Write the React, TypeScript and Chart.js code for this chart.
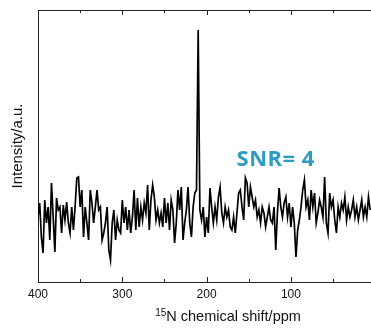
import React, { useEffect, useRef } from "react";
import { Chart, registerables } from "chart.js";

Chart.register(...registerables);

// Spectrum sampling grid (ppm) and intensities (a.u.)
const ppmStart = 400;
const ppmStep = 2;
const intensity = [
  65, 79, 45, 29, 82, 59, 75, 42, 99, 65, 30, 84, 72, 75, 49, 77, 62, 80, 59, 49,
  75, 52, 75, 104, 105, 75, 92, 45, 75, 59, 42, 92, 79, 59, 75, 92, 72, 75, 42, 49,
  59, 75, 32, 22, 59, 72, 42, 62, 52,
  49, 82, 59, 75, 52, 72, 49, 65, 92, 52, 84, 55, 75, 62, 79, 69, 97, 52, 82, 97,
  85, 62, 72, 59, 69, 55, 84, 59, 79, 52, 82, 72, 39, 59, 92, 72, 95, 42, 59, 72,
  95, 59, 45, 75, 89, 92,
  252,
  72, 62, 75, 45, 65, 49, 94, 75, 59, 75, 62, 85, 95, 69, 59, 75, 65, 72, 55, 52,
  65, 49, 69, 89, 92, 75, 62, 104, 99, 75, 95, 85, 75, 82, 65, 72, 59, 75, 69, 55,
  65, 75, 62, 59, 75, 32, 69, 94, 75, 65,
  79, 85, 65, 79, 55, 75, 59, 25, 52, 62, 75, 92, 102, 75, 82, 62, 92, 75, 89, 59,
  69, 82, 75, 65, 105, 59, 49, 89, 75, 82, 62, 49, 75, 65, 79, 72, 85, 62, 75, 65,
  72, 82, 65, 75, 62, 72, 82, 65, 75, 65, 85, 72,
];

const xMajorTicks = [400, 300, 200, 100];
const xMinorTicks = [350, 250, 150, 50];
const xRange = [400, 5];
const yRange = [0, 272];
const annotationText = "SNR= 4";
const annotationPos = { x: 118, y: 122 };
const yTitle = "Intensity/a.u.";
const xTitleSup = "15";
const xTitleMain = "N chemical shift/ppm";

const AXIS_COLOR = "#222";

export default function App() {
  const canvasRef = useRef<HTMLCanvasElement | null>(null);

  useEffect(() => {
    document.body.style.margin = "0";
    const canvas = canvasRef.current;
    if (!canvas) return;

    const points = intensity.map((v, i) => ({ x: ppmStart - ppmStep * i, y: v }));

    const decorPlugin = {
      id: "decor",
      afterDraw(chart: any) {
        const ctx = chart.ctx;
        const xs = chart.scales.x;
        const ys = chart.scales.y;
        const area = chart.chartArea;
        ctx.save();
        // top frame line
        ctx.strokeStyle = AXIS_COLOR;
        ctx.lineWidth = 1;
        ctx.beginPath();
        ctx.moveTo(area.left, area.top + 0.5);
        ctx.lineTo(area.right, area.top + 0.5);
        ctx.stroke();
        // inward ticks top and bottom
        const drawTick = (v: number, len: number) => {
          const px = Math.round(xs.getPixelForValue(v)) + 0.5;
          ctx.beginPath();
          ctx.moveTo(px, area.bottom);
          ctx.lineTo(px, area.bottom - len);
          ctx.moveTo(px, area.top);
          ctx.lineTo(px, area.top + len);
          ctx.stroke();
        };
        xMajorTicks.forEach((v) => drawTick(v, 5));
        xMinorTicks.forEach((v) => drawTick(v, 3));
        // annotation
        ctx.fillStyle = "#2E9BC0";
        ctx.font = "bold 22px 'Open Sans'";
        (ctx as any).letterSpacing = "0.5px";
        ctx.textAlign = "center";
        ctx.textBaseline = "middle";
        ctx.fillText(annotationText, xs.getPixelForValue(annotationPos.x), ys.getPixelForValue(annotationPos.y));
        (ctx as any).letterSpacing = "0px";
        // x title with superscript
        ctx.fillStyle = "#111";
        ctx.textAlign = "left";
        ctx.textBaseline = "alphabetic";
        const mainFont = "14.5px 'Liberation Sans'";
        const supFont = "10px 'Liberation Sans'";
        ctx.font = supFont;
        const wSup = ctx.measureText(xTitleSup).width;
        ctx.font = mainFont;
        const wMain = ctx.measureText(xTitleMain).width;
        const cx = 228;
        const startX = cx - (wSup + wMain) / 2;
        const baseY = 321;
        ctx.font = supFont;
        ctx.fillText(xTitleSup, startX, baseY - 5);
        ctx.font = mainFont;
        ctx.fillText(xTitleMain, startX + wSup, baseY);
        ctx.restore();
      },
    };

    const chart = new Chart(canvas, {
      type: "line",
      data: {
        datasets: [
          {
            data: points,
            borderColor: "#000",
            borderWidth: 1.7,
            pointRadius: 0,
            tension: 0,
            fill: false,
          },
        ],
      },
      options: {
        animation: false,
        responsive: false,
        maintainAspectRatio: false,
        layout: { padding: { top: 10, right: 0, left: 0, bottom: 0 } },
        plugins: {
          legend: { display: false },
          tooltip: { enabled: false },
        },
        scales: {
          x: {
            type: "linear",
            reverse: true,
            min: xRange[1],
            max: xRange[0],
            afterFit: (s: any) => {
              s.height = 47;
            },
            afterBuildTicks: (s: any) => {
              s.ticks = xMajorTicks.map((v) => ({ value: v }));
            },
            ticks: {
              autoSkip: false,
              maxRotation: 0,
              padding: 5,
              color: "#111",
              font: { family: "'Liberation Sans'", size: 12 },
              callback: (v: any) => String(v),
            },
            grid: { display: false, drawTicks: false },
            border: { display: true, color: AXIS_COLOR, width: 1 },
          },
          y: {
            type: "linear",
            min: yRange[0],
            max: yRange[1],
            afterFit: (s: any) => {
              s.width = 38;
            },
            ticks: { display: false },
            grid: { display: false, drawTicks: false },
            border: { display: true, color: AXIS_COLOR, width: 1 },
            title: {
              display: true,
              text: yTitle,
              color: "#111",
              font: { family: "'Liberation Sans'", size: 15 },
              padding: { top: 9, bottom: 0 },
            },
          },
        },
      },
      plugins: [decorPlugin],
    });

    return () => chart.destroy();
  }, []);

  return (
    <div style={{ width: 371, height: 329 }}>
      <canvas ref={canvasRef} width={371} height={329} style={{ display: "block" }} />
    </div>
  );
}
